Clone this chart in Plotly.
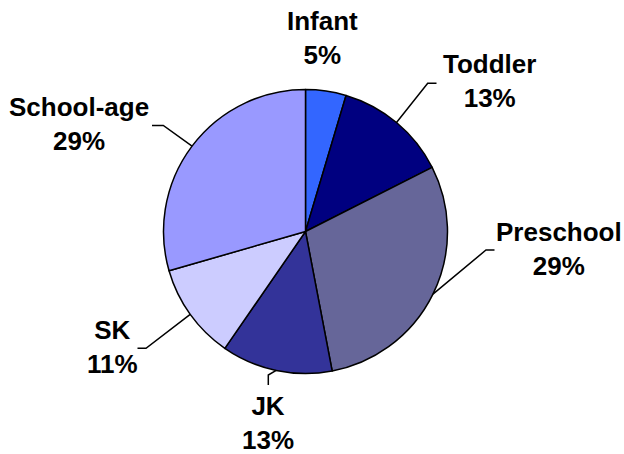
import math
import plotly.graph_objects as go

# ---- data ----
categories = ["Infant", "Toddler", "Preschool", "JK", "SK", "School-age"]
values = [4.6, 12.9, 29.4, 12.6, 10.9, 29.4]

# ---- styles / layout ----
colors = ["#3366FF", "#000080", "#666699", "#333399", "#CCCCFF", "#9999FF"]
W, H = 624, 454
CX, CY, R = 305.5, 231.5, 142.0  # pixels
FONT = "Liberation Sans, Arial, sans-serif"
FSIZE = 26

# label block centers (px) and leader elbow / stub end (px)
label_pos = {
    "Infant": (322, 38),
    "Toddler": (489, 81),
    "Preschool": (559, 249),
    "JK": (268, 423),
    "SK": (112, 347),
    "School-age": (79, 124),
}
leaders = {
    "Infant": None,
    "Toddler": ((427.7, 83.3), (436.5, 83.3)),
    "Preschool": ((486.0, 250.0), (494.5, 250.0)),
    "JK": ((268.3, 375.0), (268.3, 385.0)),
    "SK": ((146.0, 348.3), (137.5, 348.3)),
    "School-age": ((163.3, 125.5), (152.0, 125.5)),
}


def px(x):
    return x / W


def py(y):
    return 1 - y / H


fig = go.Figure(
    go.Pie(
        labels=categories,
        values=values,
        sort=False,
        direction="clockwise",
        rotation=0,
        marker=dict(colors=colors, line=dict(color="black", width=1.5)),
        textinfo="none",
        hoverinfo="skip",
        showlegend=False,
        domain=dict(x=[px(CX - R), px(CX + R)], y=[py(CY + R), py(CY - R)]),
    )
)

total = sum(values)
cum = 0.0
shapes = []
annotations = []
for name, v in zip(categories, values):
    mid = (cum + v / 2) / total * 2 * math.pi
    cum += v
    pct = round(v / total * 100)
    lx, ly = label_pos[name]
    annotations.append(
        dict(
            x=px(lx), y=py(ly), xref="paper", yref="paper",
            text=f"{name}<br>{pct}%", showarrow=False,
            font=dict(family=FONT, size=FSIZE, color="black", weight="bold"),
            xanchor="center", yanchor="middle", align="center",
        )
    )
    if leaders[name] is not None:
        ax = CX + R * math.sin(mid)
        ay = CY - R * math.cos(mid)
        (ex, ey), (sx, sy) = leaders[name]
        path = f"M {px(ax)} {py(ay)} L {px(ex)} {py(ey)} L {px(sx)} {py(sy)}"
        shapes.append(
            dict(type="path", path=path, xref="paper", yref="paper",
                 line=dict(color="black", width=1.5))
        )

fig.update_layout(
    width=W, height=H,
    margin=dict(l=0, r=0, t=0, b=0),
    paper_bgcolor="white", plot_bgcolor="white",
    shapes=shapes, annotations=annotations,
)

fig.write_html(
    "out.html",
    config={"displayModeBar": False},
    post_script="document.body.style.margin='0';document.body.style.overflow='hidden';",
)
